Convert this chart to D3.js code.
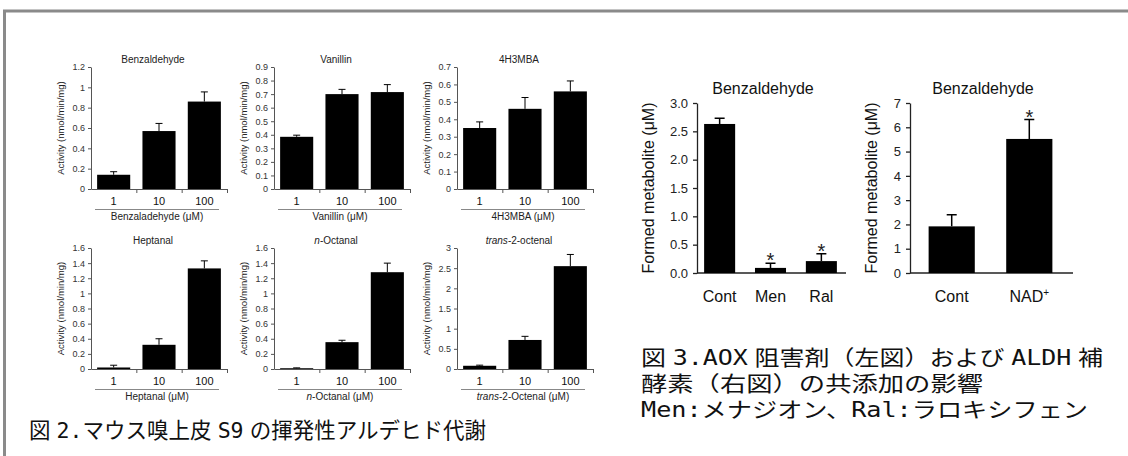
<!DOCTYPE html>
<html>
<head>
<meta charset="utf-8">
<script src="https://cdn.jsdelivr.net/npm/d3@7"></script>
<style>
  body { margin: 0; background: #fff; }
  svg { display: block; }
</style>
</head>
<body>
<div id="container"></div>
<script>
/* DATA */
// fig 2: activity (nmol/min/mg) at 1, 10, 100 uM
const doses = ["1", "10", "100"]
const panelTitles = ["Benzaldehyde", "Vanillin", "4H3MBA", "Heptanal", "n-Octanal", "trans-2-octenal"]
const panelXLabels = ["Benzaladehyde (μM)", "Vanillin (μM)", "4H3MBA (μM)", "Heptanal (μM)", "n-Octanal (μM)", "trans-2-Octenal (μM)"]
const panelYMax = [1.2, 0.9, 0.7, 1.6, 1.6, 3]
const panelYStep = [0.2, 0.1, 0.1, 0.2, 0.2, 0.5]

const benzaldehydeMean = [0.14, 0.57, 0.86]
const benzaldehydeErr = [0.03, 0.075, 0.095]
const vanillinMean = [0.385, 0.70, 0.715]
const vanillinErr = [0.012, 0.035, 0.055]
const mbaMean = [0.35, 0.46, 0.56]
const mbaErr = [0.035, 0.065, 0.06]
const heptanalMean = [0.02, 0.32, 1.33]
const heptanalErr = [0.03, 0.08, 0.1]
const octanalMean = [0.01, 0.355, 1.28]
const octanalErr = [0.005, 0.025, 0.12]
const octenalMean = [0.08, 0.72, 2.55]
const octenalErr = [0.015, 0.09, 0.29]

// fig 3
const inhibitorGroups = ["Cont", "Men", "Ral"]
const inhibitorMean = [2.63, 0.09, 0.21]
const inhibitorErr = [0.1, 0.08, 0.13]
const inhibitorSig = [false, true, true]
const inhibitorTicks = [0, 0.5, 1, 1.5, 2, 2.5, 3]

const cofactorGroups = ["Cont", "NAD+"]
const cofactorMean = [1.92, 5.52]
const cofactorErr = [0.48, 0.8]
const cofactorSig = [false, true]
const cofactorTicks = [0, 1, 2, 3, 4, 5, 6, 7]

const caption2 = "図 2.マウス嗅上皮 S9 の揮発性アルデヒド代謝"
const caption3 = ["図 3.AOX 阻害剤（左図）および ALDH 補", "酵素（右図）の共添加の影響", "Men:メナジオン、Ral:ラロキシフェン"]

/* SETUP */
const width = 1128, height = 456
const svg = d3.select('#container').append('svg')
  .attr('width', width)
  .attr('height', height)

// grey frame (top + left)
svg.append('path')
  .attr('d', 'M4.5,456 V11 H1128')
  .attr('fill', 'none')
  .attr('stroke', '#8a8a8a')
  .attr('stroke-width', 3)

const sans = 'Liberation Sans, Arial, sans-serif'
const cjk = '"DejaVu Sans Mono", "Noto Sans CJK JP", monospace'

const means = [benzaldehydeMean, vanillinMean, mbaMean, heptanalMean, octanalMean, octenalMean]
const errs = [benzaldehydeErr, vanillinErr, mbaErr, heptanalErr, octanalErr, octenalErr]

// label with italic prefix (n-, trans-)
function richText(sel, str) {
  const m = str.match(/^(n|trans)(-.*)$/)
  if (m) {
    sel.append('tspan').attr('font-style', 'italic').text(m[1])
    sel.append('tspan').text(m[2])
  } else {
    sel.text(str)
  }
}

const colX = [91, 274, 457]
const rowY = [[67, 189], [248, 369]]
const plotW = 136

panelTitles.forEach((title, i) => {
  const x0 = colX[i % 3]
  const [yTop, yBot] = rowY[Math.floor(i / 3)]
  const g = svg.append('g')

  const x = d3.scaleBand().domain(doses).range([x0, x0 + plotW])
    .paddingInner(0.27).paddingOuter(0.135)
  const y = d3.scaleLinear().domain([0, panelYMax[i]]).range([yBot, yTop])
  const ticks = d3.range(0, panelYMax[i] + 1e-9, panelYStep[i]).map(v => +v.toFixed(2))

  const yAxis = d3.axisLeft(y).tickValues(ticks).tickSize(3).tickSizeOuter(0).tickPadding(3)
    .tickFormat(d => String(+d.toFixed(2)))
  const ya = g.append('g').attr('transform', `translate(${x0},0)`).call(yAxis)
  ya.selectAll('text').attr('font-family', sans).attr('font-size', 9).attr('fill', '#333')
  ya.selectAll('line,path').attr('stroke', '#555')

  // x axis with ticks between categories
  const xb = d3.scaleLinear().domain([0, 3]).range([x0, x0 + x.step() * 3])
  const xa = g.append('g').attr('transform', `translate(0,${yBot})`)
    .call(d3.axisBottom(xb).tickValues([1, 2, 3]).tickSize(4).tickSizeOuter(0).tickFormat(''))
  xa.selectAll('line,path').attr('stroke', '#555')

  g.selectAll('rect').data(means[i]).join('rect')
    .attr('x', (d, j) => x(doses[j]))
    .attr('y', d => y(d))
    .attr('width', x.bandwidth())
    .attr('height', d => yBot - y(d))
    .attr('fill', '#000')

  const cx = j => x(doses[j]) + x.bandwidth() / 2
  g.selectAll('.err').data(means[i]).join('path')
    .attr('class', 'err')
    .attr('d', (d, j) => `M${cx(j)},${y(d)}V${y(d + errs[i][j])}M${cx(j) - 3.5},${y(d + errs[i][j])}h7`)
    .attr('stroke', '#000').attr('stroke-width', 1).attr('fill', 'none')

  g.selectAll('.cat').data(doses).join('text')
    .attr('class', 'cat')
    .attr('x', d => x(d) + x.bandwidth() / 2)
    .attr('y', yBot + 16)
    .attr('text-anchor', 'middle')
    .attr('font-family', sans).attr('font-size', 11).attr('fill', '#111')
    .text(d => d)

  g.append('line')
    .attr('x1', x0 + 4).attr('x2', x0 + plotW - 8)
    .attr('y1', yBot + 20.5).attr('y2', yBot + 20.5)
    .attr('stroke', '#888').attr('stroke-width', 1)

  g.append('text')
    .attr('x', x0 + plotW / 2 - 2).attr('y', yBot + 31)
    .attr('text-anchor', 'middle')
    .attr('font-family', sans).attr('font-size', 10).attr('fill', '#222')
    .call(richText, panelXLabels[i])

  g.append('text')
    .attr('x', x0 + plotW / 2 - 6).attr('y', yTop - 4)
    .attr('text-anchor', 'middle')
    .attr('font-family', sans).attr('font-size', 10).attr('fill', '#222')
    .call(richText, title)

  g.append('text')
    .attr('transform', `translate(${x0 - 27},${(yTop + yBot) / 2}) rotate(-90)`)
    .attr('text-anchor', 'middle')
    .attr('font-family', sans).attr('font-size', 9.5).attr('fill', '#222')
    .text('Activity (nmol/min/mg)')
})

/* FIG 3 */
function bigPanel(cfg) {
  const g = svg.append('g')
  const x = d3.scaleBand().domain(cfg.groups).range([cfg.x0, cfg.x1])
    .paddingInner(cfg.pi).paddingOuter(cfg.po)
  const y = d3.scaleLinear().domain([0, cfg.ymax]).range([cfg.yBot, cfg.yTop])

  const ya = g.append('g').attr('transform', `translate(${cfg.x0},0)`)
    .call(d3.axisLeft(y).tickValues(cfg.ticks).tickSize(4).tickSizeOuter(0).tickPadding(5).tickFormat(cfg.fmt))
  ya.selectAll('text').attr('font-family', sans).attr('font-size', 13).attr('fill', '#222')
  ya.selectAll('line,path').attr('stroke', '#222').attr('stroke-width', 1.3)

  g.append('line')
    .attr('x1', cfg.x0).attr('x2', cfg.x1 + 2)
    .attr('y1', cfg.yBot).attr('y2', cfg.yBot)
    .attr('stroke', '#222').attr('stroke-width', 1.5)

  g.selectAll('rect').data(cfg.mean).join('rect')
    .attr('x', (d, j) => x(cfg.groups[j]))
    .attr('y', d => y(d))
    .attr('width', x.bandwidth())
    .attr('height', d => cfg.yBot - y(d))
    .attr('fill', '#000')

  const cx = j => x(cfg.groups[j]) + x.bandwidth() / 2
  g.selectAll('.err').data(cfg.mean).join('path')
    .attr('class', 'err')
    .attr('d', (d, j) => `M${cx(j)},${y(d)}V${y(d + cfg.err[j])}M${cx(j) - 5},${y(d + cfg.err[j])}h10`)
    .attr('stroke', '#000').attr('stroke-width', 1.5).attr('fill', 'none')

  g.selectAll('.sig').data(cfg.mean).join('text')
    .attr('class', 'sig')
    .attr('x', (d, j) => cx(j))
    .attr('y', (d, j) => y(d + cfg.err[j]) + 4)
    .attr('text-anchor', 'middle')
    .attr('font-family', sans).attr('font-size', 20).attr('fill', '#222')
    .text((d, j) => cfg.sig[j] ? '*' : '')

  const lab = g.selectAll('.cat').data(cfg.groups).join('text')
    .attr('class', 'cat')
    .attr('x', d => x(d) + x.bandwidth() / 2)
    .attr('y', cfg.yBot + 29)
    .attr('text-anchor', 'middle')
    .attr('font-family', sans).attr('font-size', 16).attr('fill', '#111')
  lab.each(function (d) {
    const t = d3.select(this)
    if (d.endsWith('+')) {
      t.append('tspan').text(d.slice(0, -1))
      t.append('tspan').attr('font-size', 10).attr('dy', -6).text('+')
    } else {
      t.text(d)
    }
  })

  g.append('text')
    .attr('x', cfg.titleX).attr('y', cfg.yTop - 9)
    .attr('text-anchor', 'middle')
    .attr('font-family', sans).attr('font-size', 16).attr('fill', '#111')
    .text('Benzaldehyde')

  g.append('text')
    .attr('transform', `translate(${cfg.x0 - cfg.labOff},${(cfg.yTop + cfg.yBot) / 2}) rotate(-90)`)
    .attr('text-anchor', 'middle')
    .attr('font-family', sans).attr('font-size', 16).attr('fill', '#111')
    .text('Formed metabolite (μM)')
}

bigPanel({
  groups: inhibitorGroups, mean: inhibitorMean, err: inhibitorErr, sig: inhibitorSig,
  ticks: inhibitorTicks, ymax: 3, fmt: d3.format('.1f'),
  x0: 697, x1: 844, pi: 0.39, po: 0.14, yTop: 103, yBot: 273, titleX: 763, labOff: 43
})

bigPanel({
  groups: cofactorGroups, mean: cofactorMean, err: cofactorErr, sig: cofactorSig,
  ticks: cofactorTicks, ymax: 7, fmt: d3.format('d'),
  x0: 910, x1: 1071, pi: 0.405, po: 0.24, yTop: 103, yBot: 273, titleX: 983, labOff: 33
})

/* CAPTIONS */
svg.append('text')
  .attr('x', 29).attr('y', 438)
  .attr('font-family', cjk).attr('font-size', 22).attr('fill', '#111')
  .attr('word-spacing', -7)
  .attr('textLength', 457).attr('lengthAdjust', 'spacingAndGlyphs')
  .text(caption2)

const capLens = [462, 342, 447]
svg.selectAll('.cap3').data(caption3).join('text')
  .attr('class', 'cap3')
  .attr('x', 641)
  .attr('y', (d, i) => 365 + i * 26)
  .attr('font-family', cjk).attr('font-size', 21).attr('fill', '#111')
  .attr('word-spacing', -7)
  .attr('textLength', (d, i) => capLens[i]).attr('lengthAdjust', 'spacingAndGlyphs')
  .text(d => d)
</script>
</body>
</html>
